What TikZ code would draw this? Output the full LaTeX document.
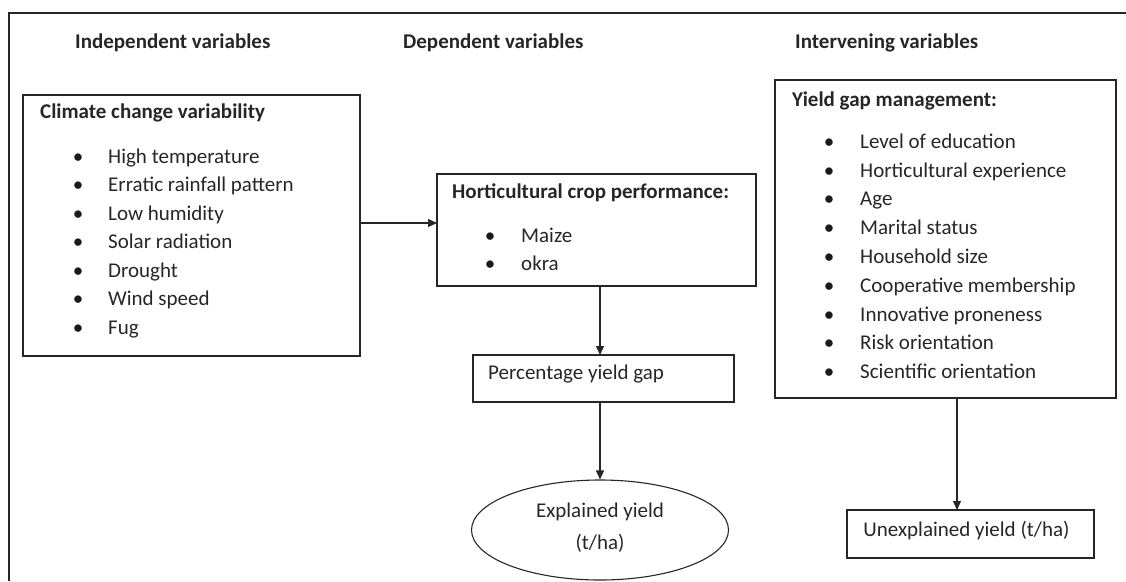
\documentclass[tikz,border=0pt]{standalone}
\usepackage{fontspec}
\setmainfont{Carlito}
\usetikzlibrary{arrows.meta,shapes.geometric}
\begin{document}
\begin{tikzpicture}[x=1pt,y=-1pt,
  box/.style={draw=black!85, line width=1.1pt, inner sep=0pt, outer sep=0pt, anchor=north west},
  lbl/.style={anchor=mid west, inner sep=0pt, text=black!85, font=\fontsize{21}{24}\selectfont},
  ttl/.style={lbl, font=\fontsize{21}{24}\selectfont\bfseries},
  bul/.style={anchor=mid, inner sep=0pt, text=black!90, font=\fontsize{21}{24}\selectfont},
  arr/.style={-{Triangle[length=9pt,width=8pt]}, line width=1.1pt, draw=black!85},
]
\useasboundingbox (0,0) rectangle (1126,581);
\draw[line width=1.3pt, black!85] (1126,13) -- (9,13) -- (9,581);

% headings
\node[ttl] (h1) at (75,46) {Independent variables};
\node[ttl] (h2) at (403,46) {Dependent variables};
\node[ttl] (h3) at (795,46) {Intervening variables};

% climate box
\node[box, minimum width=337pt, minimum height=261pt] (cc) at (23,95) {};
\node[ttl] (cct) at (40,116) {Climate change variability};
\foreach \t [count=\i from 0] in {High temperature, Erratic rainfall pattern, Low humidity, Solar radiation, Drought, Wind speed, Fug}{
  \node[bul] (ccb\i) at (78,161+28.5*\i) {\textbullet};
  \node[lbl] (cci\i) at (108,161+28.5*\i) {\t};
}

% horticultural box
\node[box, minimum width=319pt, minimum height=112pt] (hp) at (437,174) {};
\node[ttl] (hpt) at (452,196) {Horticultural crop performance:};
\node[bul] (hpb0) at (490,240) {\textbullet};
\node[lbl] (hpi0) at (521,240) {Maize};
\node[bul] (hpb1) at (490,268) {\textbullet};
\node[lbl] (hpi1) at (521,268) {okra};

% percentage box
\node[box, minimum width=261pt, minimum height=47pt] (pg) at (473,355) {};
\node[lbl] (pgt) at (488,377) {Percentage yield gap};

% ellipse
\node[draw=black!85, line width=1.1pt, ellipse, inner sep=0pt, minimum width=257pt, minimum height=100pt] (ey) at (600,530) {};
\node[lbl, anchor=mid] (ey1) at (600,515) {Explained yield};
\node[lbl, anchor=mid] (ey2) at (600,547) {(t/ha)};

% yield gap management box
\node[box, minimum width=341pt, minimum height=318pt] (yg) at (775,80) {};
\node[ttl] (ygt) at (792,104) {Yield gap management:};
\foreach \t [count=\i from 0] in {Level of education, Horticultural experience, Age, Marital status, Household size, Cooperative membership, Innovative proneness, Risk orientation, Scientific orientation}{
  \node[bul] (ygb\i) at (829,146+28.8*\i) {\textbullet};
  \node[lbl] (ygi\i) at (860,146+28.8*\i) {\t};
}

% unexplained box
\node[box, minimum width=247pt, minimum height=48pt] (ux) at (847,510) {};
\node[lbl, anchor=mid] (uxt) at ([xshift=-4pt]ux.center) {Unexplained yield (t/ha)};

% connectors
\draw[arr] ([yshift=2.5pt]cc.east) -- ([yshift=2.5pt]cc.east -| hp.west);
\draw[arr] (hp.south -| ey.north) -- (pg.north -| ey.north);
\draw[arr] (pg.south -| ey.north) -- (ey.north);
\draw[arr] ([xshift=11.5pt]yg.south) -- ([xshift=11.5pt]yg.south |- ux.north);
\end{tikzpicture}
\end{document}
